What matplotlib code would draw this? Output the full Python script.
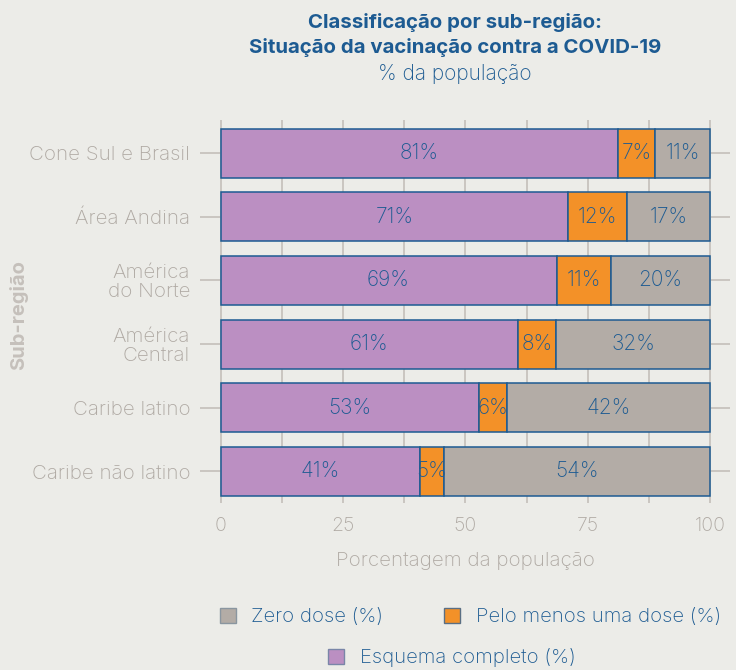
import numpy as np
import matplotlib
matplotlib.use("Agg")
from matplotlib import pyplot as plt
from matplotlib.patches import Patch

subregions = ["Cone Sul e Brasil", "Área Andina", "América\ndo Norte",
              "América\nCentral", "Caribe latino", "Caribe não latino"]
esquema_completo = [81.2, 71.0, 68.6, 60.7, 52.8, 40.7]
uma_dose = [7.4, 11.9, 11.1, 7.7, 5.6, 4.9]
zero_dose = [11.4, 17.1, 20.3, 31.6, 41.6, 54.4]
x_ticks = [0, 25, 50, 75, 100]

BG = "#ecece8"
BLUE = "#1d5b92"
GREY_TXT = "#afa9a3"
GRID = "#c4bfba"
C_PURPLE = "#bb8fc2"
C_ORANGE = "#f39128"
C_GREY = "#b3aca6"

plt.rcParams['font.family'] = ['Inter', 'DejaVu Sans']

fig = plt.figure(figsize=(7.36, 6.70), dpi=100, facecolor=BG)
ax = fig.add_axes([0.2717, 0.249, 0.7201, 0.572])
ax.set_facecolor(BG)

y = np.arange(len(subregions))
ax.set_xlim(-4.2, 104)
ax.set_ylim(len(subregions) - 0.5, -0.52)

# grid: horizontal at categories, vertical every 12.5
for yi in y:
    ax.axhline(yi, color=GRID, lw=1.2, zorder=0)
for xv in np.arange(0, 100.1, 12.5):
    ax.axvline(xv, color=GRID, lw=1.2, zorder=0)

h = 0.77
left = np.zeros(len(subregions))
for vals, col in [(esquema_completo, C_PURPLE), (uma_dose, C_ORANGE), (zero_dose, C_GREY)]:
    vals = np.array(vals)
    ax.barh(y, vals, left=left, height=h, color=col, edgecolor=BLUE, linewidth=1.1, zorder=2)
    for yi, l, v in zip(y, left, vals):
        ax.text(l + v / 2, yi, f"{v:.0f}%", ha="center", va="center",
                color=BLUE, fontsize=15, fontweight="light", zorder=3)
    left = left + vals

for s in ax.spines.values():
    s.set_visible(False)
ax.set_yticks(y)
ax.set_yticklabels(subregions, fontsize=14.8, color=GREY_TXT, fontweight="light",
                   linespacing=1.05, ha="right")
ax.set_xticks(x_ticks)
ax.set_xticklabels([str(t) for t in x_ticks], fontsize=14, color=GREY_TXT, fontweight="light")
ax.tick_params(length=0, pad=10)
ax.tick_params(axis="y", pad=7)

ax.set_xlabel("Porcentagem da população", fontsize=14.8, color=GREY_TXT,
              fontweight="light", labelpad=12)
fig.text(0.025, 0.530, "Sub-região", rotation=90, ha="center", va="center",
         fontsize=14.5, color="#c5c0bb", fontweight="bold")

fig.text(0.618, 0.967, "Classificação por sub-região:", ha="center", va="center",
         fontsize=14.7, color=BLUE, fontweight="bold")
fig.text(0.618, 0.929, "Situação da vacinação contra a COVID-19", ha="center", va="center",
         fontsize=14.7, color=BLUE, fontweight="bold")
fig.text(0.618, 0.890, "% da população", ha="center", va="center",
         fontsize=15, color=BLUE, fontweight="light")

h_zero = Patch(facecolor=C_GREY, edgecolor="#8a96a0", label="Zero dose (%)")
h_uma = Patch(facecolor=C_ORANGE, edgecolor="#5a6f84", label="Pelo menos uma dose (%)")
h_esq = Patch(facecolor=C_PURPLE, edgecolor="#7a86a8", label="Esquema completo (%)")
leg1 = fig.legend(handles=[h_zero, h_uma], loc="center", bbox_to_anchor=(0.639, 0.079),
                  ncol=2, frameon=False, fontsize=14.6, labelcolor=BLUE,
                  handlelength=0.8, handleheight=0.8, handletextpad=0.75, columnspacing=3.0)
for t in leg1.get_texts():
    t.set_fontweight("light")
leg2 = fig.legend(handles=[h_esq], loc="center", bbox_to_anchor=(0.614, 0.018),
                  frameon=False, fontsize=14.6, labelcolor=BLUE,
                  handlelength=0.8, handleheight=0.8, handletextpad=0.75)
for t in leg2.get_texts():
    t.set_fontweight("light")

fig.savefig("out.png", dpi=100, facecolor=BG)
